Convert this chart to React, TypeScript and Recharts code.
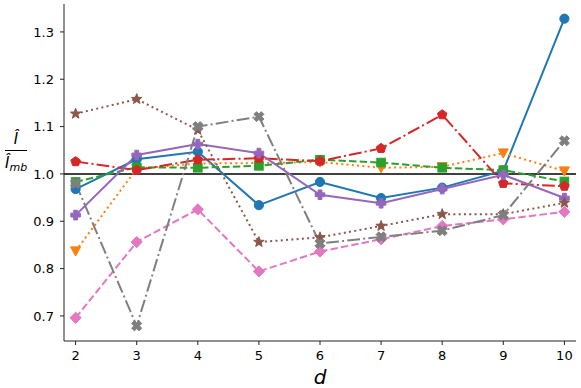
import React from "react";
import { LineChart, Line, XAxis, YAxis, ReferenceLine } from "recharts";

const dValues = [2, 3, 4, 5, 6, 7, 8, 9, 10];
const blueVals = [0.968, 1.031, 1.047, 0.934, 0.983, 0.949, 0.971, 1.007, 1.328];
const orangeVals = [0.837, 1.011, 1.022, 1.023, 1.025, 1.013, 1.015, 1.044, 1.006];
const greenVals = [0.983, 1.014, 1.013, 1.017, 1.030, 1.024, 1.013, 1.008, 0.984];
const redVals = [1.026, 1.008, 1.030, 1.033, 1.027, 1.054, 1.125, 0.980, 0.974];
const purpleVals = [0.913, 1.040, 1.063, 1.044, 0.956, 0.938, 0.968, 0.998, 0.949];
const brownVals = [1.127, 1.158, 1.093, 0.856, 0.866, 0.890, 0.915, 0.915, 0.939];
const pinkVals = [0.696, 0.856, 0.925, 0.794, 0.836, 0.862, 0.890, 0.904, 0.920];
const grayVals = [0.980, 0.679, 1.100, 1.121, 0.853, 0.867, 0.880, 0.913, 1.070];

const xTicks = [2, 3, 4, 5, 6, 7, 8, 9, 10];
const yTicks = [0.7, 0.8, 0.9, 1.0, 1.1, 1.2, 1.3];

const data = dValues.map((d, i) => ({
  d,
  blue: blueVals[i],
  orange: orangeVals[i],
  green: greenVals[i],
  red: redVals[i],
  purple: purpleVals[i],
  brown: brownVals[i],
  pink: pinkVals[i],
  gray: grayVals[i],
}));

const COLORS = {
  blue: "#1f77b4",
  orange: "#ff7f0e",
  green: "#2ca02c",
  red: "#d62728",
  purple: "#9467bd",
  brown: "#8c564b",
  pink: "#e377c2",
  gray: "#7f7f7f",
};

function poly(pts: number[][]) {
  return pts.map((p) => p[0].toFixed(2) + "," + p[1].toFixed(2)).join(" ");
}

function starPts(cx: number, cy: number, ro: number, ri: number) {
  const pts: number[][] = [];
  for (let k = 0; k < 10; k++) {
    const a = (-90 + k * 36) * (Math.PI / 180);
    const r = k % 2 === 0 ? ro : ri;
    pts.push([cx + r * Math.cos(a), cy + r * Math.sin(a)]);
  }
  return pts;
}

function plusPts(cx: number, cy: number, arm: number, half: number, rot: number) {
  const base = [
    [-half, -arm], [half, -arm], [half, -half], [arm, -half], [arm, half], [half, half],
    [half, arm], [-half, arm], [-half, half], [-arm, half], [-arm, -half], [-half, -half],
  ];
  const c = Math.cos(rot), s = Math.sin(rot);
  return base.map(([x, y]) => [cx + x * c - y * s, cy + x * s + y * c]);
}

function makeDot(shape: string, color: string) {
  return (props: any) => {
    const { cx, cy, index } = props;
    const k = "dot-" + shape + "-" + index;
    if (cx == null || cy == null) return <g key={k} />;
    switch (shape) {
      case "circle":
        return <circle key={k} cx={cx} cy={cy} r={4.6} fill={color} stroke={color} />;
      case "tri":
        return (
          <polygon key={k} fill={color} stroke={color}
            points={poly([[cx - 5, cy - 4.2], [cx + 5, cy - 4.2], [cx, cy + 5]])} />
        );
      case "square":
        return <rect key={k} x={cx - 4.3} y={cy - 4.3} width={8.6} height={8.6} fill={color} stroke={color} />;
      case "pentagon": {
        const pts: number[][] = [];
        for (let j = 0; j < 5; j++) {
          const a = (-90 + j * 72) * (Math.PI / 180);
          pts.push([cx + 5 * Math.cos(a), cy + 5 * Math.sin(a)]);
        }
        return <polygon key={k} fill={color} stroke={color} points={poly(pts)} />;
      }
      case "plus":
        return <polygon key={k} fill={color} stroke={color} points={poly(plusPts(cx, cy, 4.8, 1.9, 0))} />;
      case "star":
        return <polygon key={k} fill={color} stroke={color} points={poly(starPts(cx, cy, 5.5, 2.3))} />;
      case "diamond":
        return (
          <polygon key={k} fill={color} stroke={color}
            points={poly([[cx, cy - 5.6], [cx + 5.6, cy], [cx, cy + 5.6], [cx - 5.6, cy]])} />
        );
      case "x":
        return <polygon key={k} fill={color} stroke={color} points={poly(plusPts(cx, cy, 5.2, 1.9, Math.PI / 4))} />;
      default:
        return <g key={k} />;
    }
  };
}

const SERIES = [
  { key: "blue", shape: "circle", dash: undefined },
  { key: "orange", shape: "tri", dash: "2 3.3" },
  { key: "green", shape: "square", dash: "7.4 3.2" },
  { key: "red", shape: "pentagon", dash: "12.8 3.2 2 3.2" },
  { key: "purple", shape: "plus", dash: undefined },
  { key: "brown", shape: "star", dash: "2 3.3" },
  { key: "pink", shape: "diamond", dash: "7.4 3.2" },
  { key: "gray", shape: "x", dash: "12.8 3.2 2 3.2" },
];

const AXIS_COLOR = "#222";
const FONT = "DejaVu Sans";

export default function App() {
  return (
    <div style={{ position: "absolute", left: 0, top: 0, background: "#fff" }}>
      <LineChart width={581} height={388} data={data} margin={{ top: 4, right: 5, bottom: 0, left: 0 }}>
        <XAxis
          dataKey="d"
          type="number"
          domain={[1.81, 10.19]}
          ticks={xTicks}
          allowDataOverflow
          height={47}
          tickSize={4}
          tickMargin={6}
          stroke={AXIS_COLOR}
          tick={{ fill: "#000", fontSize: 13, fontFamily: FONT }}
          label={{
            content: (p: any) => {
              const vb = p.viewBox || { x: 64, y: 341, width: 511 };
              return (
                <text x={vb.x + vb.width / 2} y={384} textAnchor="middle" fontSize={20}
                  fontStyle="italic" fontFamily={FONT} fill="#000">d</text>
              );
            },
          }}
        />
        <XAxis
          xAxisId="top"
          orientation="top"
          dataKey="d"
          type="number"
          domain={[1.81, 10.19]}
          height={0}
          tick={false}
          tickLine={false}
          stroke={AXIS_COLOR}
        />
        <YAxis
          type="number"
          domain={[0.647, 1.359]}
          ticks={yTicks}
          allowDataOverflow
          width={64}
          tickSize={4}
          tickMargin={6}
          stroke={AXIS_COLOR}
          tickFormatter={(v: number) => v.toFixed(1)}
          tick={{ fill: "#000", fontSize: 13, fontFamily: FONT }}
          label={{
            content: () => (
              <g fontFamily={FONT} fill="#000">
                <text x={16} y={144} textAnchor="middle" fontSize={15} fontStyle="italic">{"\u00CE"}</text>
                <line x1={5} x2={27} y1={150.5} y2={150.5} stroke="#000" strokeWidth={1} />
                <text x={5} y={168} fontSize={15} fontStyle="italic">
                  {"\u00CE"}
                  <tspan fontSize={11} dy={3}>mb</tspan>
                </text>
              </g>
            ),
          }}
        />
        <YAxis
          yAxisId="right"
          orientation="right"
          type="number"
          domain={[0.647, 1.359]}
          width={0}
          tick={false}
          tickLine={false}
          stroke={AXIS_COLOR}
        />
        <ReferenceLine y={1.0} stroke="#000" strokeWidth={1.5} />
        {SERIES.map((s) => (
          <Line
            key={s.key}
            dataKey={s.key}
            type="linear"
            stroke={(COLORS as any)[s.key]}
            strokeWidth={2}
            strokeDasharray={s.dash}
            dot={makeDot(s.shape, (COLORS as any)[s.key])}
            activeDot={false}
            isAnimationActive={false}
          />
        ))}
      </LineChart>
    </div>
  );
}
